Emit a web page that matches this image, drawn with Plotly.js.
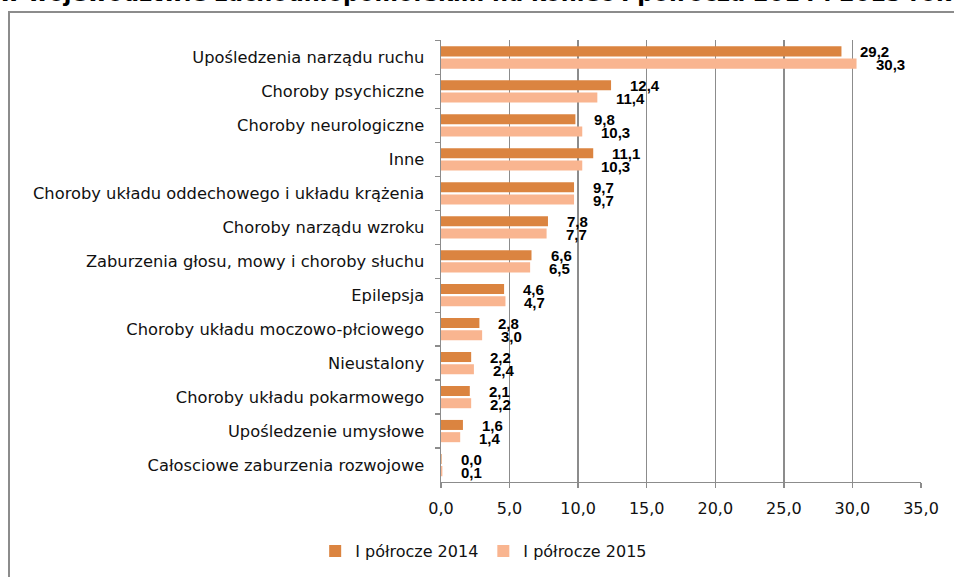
<!DOCTYPE html>
<html><head><meta charset="utf-8">
<script src="https://cdn.plot.ly/plotly-3.0.1.min.js"></script>
<style>html,body{margin:0;padding:0;background:#fff}#chart{width:954px;height:577px}</style>
</head><body><div id="chart"></div>
<script>
const categories = [
  'Upośledzenia narządu ruchu',
  'Choroby psychiczne',
  'Choroby neurologiczne',
  'Inne',
  'Choroby układu oddechowego i układu krążenia',
  'Choroby narządu wzroku',
  'Zaburzenia głosu, mowy i choroby słuchu',
  'Epilepsja',
  'Choroby układu moczowo-płciowego',
  'Nieustalony',
  'Choroby układu pokarmowego',
  'Upośledzenie umysłowe',
  'Całosciowe zaburzenia rozwojowe'
];
const values2014 = [29.2, 12.4, 9.8, 11.1, 9.7, 7.8, 6.6, 4.6, 2.8, 2.2, 2.1, 1.6, 0.04];
const values2015 = [30.3, 11.4, 10.3, 10.3, 9.7, 7.7, 6.5, 4.7, 3.0, 2.4, 2.2, 1.4, 0.1];
const seriesNames = ['I półrocze 2014', 'I półrocze 2015'];
const xTickValues = [0, 5, 10, 15, 20, 25, 30, 35];
const titleText = 'w województwie zachodniopomorskim na koniec I półrocza 2014 i 2015 roku';

const colors = ['#DB8440', '#F9B590'];
const fmt = v => v.toFixed(1).replace('.', ',');

const traces = [values2014, values2015].map((vals, i) => ({
  type: 'bar', orientation: 'h',
  y: categories, x: vals, name: seriesNames[i],
  marker: {color: colors[i]},
  hoverinfo: 'none'
}));

const annotations = [];
[values2014, values2015].forEach((vals, i) => {
  vals.forEach((v, k) => {
    annotations.push({
      x: v, y: categories[k], xref: 'x', yref: 'y',
      text: fmt(v), showarrow: false,
      xanchor: 'left', yanchor: 'middle',
      xshift: 17, yshift: i === 0 ? 6 : -7,
      font: {family: 'Liberation Sans, Arial, sans-serif', size: 15, weight: 'bold', color: '#000'}
    });
  });
});

// chart title (only its lower part is visible, as in the original)
annotations.push({
  text: '<b>' + titleText + '</b>', showarrow: false,
  xref: 'paper', yref: 'paper',
  x: (-3 - 441) / 480, xanchor: 'left',
  y: (482 + 7) / 442, yanchor: 'middle',
  font: {family: 'DejaVu Sans, sans-serif', size: 22.5, color: '#000'}
});

const layout = {
  width: 954, height: 577,
  margin: {l: 441, r: 33, t: 40, b: 95},
  paper_bgcolor: '#fff', plot_bgcolor: '#fff',
  separators: ', ',
  barmode: 'group', bargap: 0.28, bargroupgap: 0.18,
  xaxis: {
    range: [0, 35], tickvals: xTickValues, tickformat: '.1f',
    showgrid: true, gridcolor: '#8c8c8c', gridwidth: 1.4,
    showline: true, linecolor: '#8c8c8c', linewidth: 1.4,
    ticks: 'outside', ticklen: 5, tickcolor: '#8c8c8c', tickwidth: 1.4,
    zeroline: false, fixedrange: true,
    ticklabelstandoff: 6,
    tickfont: {family: 'DejaVu Sans, sans-serif', size: 16, color: '#111'}
  },
  yaxis: {
    type: 'category', autorange: 'reversed',
    showline: true, linecolor: '#8c8c8c', linewidth: 1.4,
    ticks: 'outside', ticklen: 5, tickcolor: '#8c8c8c', tickwidth: 1.4,
    tickson: 'boundaries', showgrid: false, fixedrange: true,
    ticklabelstandoff: 12,
    tickfont: {family: 'DejaVu Sans, sans-serif', size: 16.3, color: '#111'}
  },
  legend: {
    orientation: 'h', xref: 'container', yref: 'container',
    x: 0.507, xanchor: 'center', y: 0.045, yanchor: 'middle',
    font: {family: 'DejaVu Sans, sans-serif', size: 16, color: '#111'},
    itemwidth: 30, traceorder: 'normal'
  },
  showlegend: true,
  annotations: annotations,
  shapes: [{
    type: 'rect', xref: 'paper', yref: 'paper',
    x0: (9 - 441) / 480, x1: 1.2, y0: -0.4, y1: (482 - 12) / 442,
    line: {color: '#8c8c8c', width: 2}, fillcolor: 'rgba(0,0,0,0)', layer: 'below'
  }]
};

Plotly.newPlot('chart', traces, layout, {displayModeBar: false, staticPlot: true});
</script>
</body></html>
